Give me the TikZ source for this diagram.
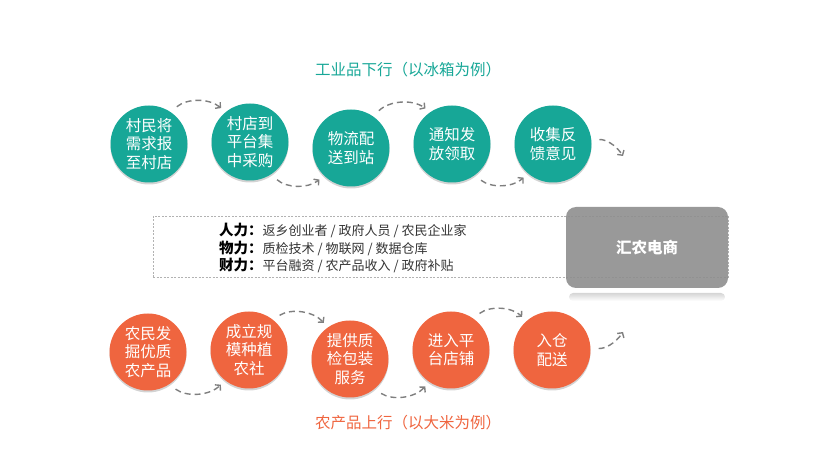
\documentclass[tikz,border=0pt]{standalone}
\usepackage{fontspec}
\setmainfont{Noto Sans CJK SC}
\usepackage{tikz}
\usetikzlibrary{arrows.meta,shadows,fadings}
\definecolor{upgreen}{HTML}{17A797}
\definecolor{downorange}{HTML}{EF653F}
\definecolor{hubgray}{HTML}{8E8E8E}
\definecolor{flowgray}{HTML}{7F7F7F}
\tikzstyle{upnode}=[circle,%
                    fill=upgreen,%
                    text=white,%
                    minimum size  = 77pt,%
                    inner sep     = 0pt,%
                    align=center,%
                    font=\fontsize{15.5}{18.5}\selectfont,%
                    drop shadow={shadow xshift=0pt,shadow yshift=-2pt,opacity=0.35},%
                    node distance = 101pt]
\tikzstyle{downnode}=[upnode,fill=downorange]
\tikzstyle{flow}=[draw=flowgray,line width=1.4pt,dash pattern=on 6pt off 4pt,%
                  -{Straight Barb[length=3.5pt,width=8pt]},shorten <=8pt,shorten >=6pt]
\tikzstyle{dashbox}=[draw=gray!60,line width=0.6pt,dash pattern=on 2pt off 1.5pt,%
                     minimum width=575pt,minimum height=61pt]
\tikzstyle{hubnode}=[rectangle,rounded corners=10pt,fill=hubgray,fill opacity=0.9,%
                     text opacity=1,text=white,minimum width=162pt,minimum height=81pt,%
                     font=\fontsize{15.5}{18}\selectfont\bfseries]
\newcommand{\lbl}[1]{{\fontsize{14.5}{17.5}\selectfont\bfseries\color{black}#1}}

\begin{document}
\begin{tikzpicture}[x=1pt,y=1pt]
            \useasboundingbox (0,0) rectangle (820,461);
            \node[text=upgreen,font=\fontsize{15.5}{18}\selectfont] (uptitle) at (408,391) {工业品下行（以冰箱为例）};
            \node[upnode] (a) at (149,317) {村民将\\需求报\\至村店};
            \node[upnode][right of=a,yshift=2pt]  (b) {村店到\\平台集\\中采购};
            \node[upnode][right of=b,yshift=-6pt] (c) {物流配\\送到站};
            \node[upnode][right of=c,yshift=4pt]  (d) {通知发\\放领取};
            \node[upnode][right of=d] (e) {收集反\\馈意见};
            \coordinate (eout) at (623,305);
            \draw [flow] (a.56) to[bend left=40] (b.129);
            \draw [flow] (b.-57) to[bend right=40] (c.-134);
            \draw [flow] (c.55) to[bend left=40] (d.124);
            \draw [flow] (d.-54) to[bend right=40] (e.-130);
            \draw [flow,shorten >=0pt] (e.6) to[bend left=30] (eout);

            \node[dashbox] (res) at (440.5,214.5) {};
            \node[anchor=west,align=left,inner sep=0pt,text=black!80,%
                  font=\fontsize{13}{17.5}\selectfont] (ziyuan) at (219,213)
                 {\lbl{人力：}返乡创业者 / 政府人员 / 农民企业家\\
                  \lbl{物力：}质检技术 / 物联网 / 数据仓库\\
                  \lbl{财力：}平台融资 / 农产品收入 / 政府补贴};
            \fill[black!16,path fading=south,rounded corners=4pt] (569,160) rectangle (725,168);
            \node[hubnode] (hub) at (647,213.5) {汇农电商};

            \node[downnode] (f) at (148,109) {农民发\\掘优质\\农产品};
            \node[downnode][right of=f,yshift=2pt]  (g) {成立规\\模种植\\农社};
            \node[downnode][right of=g,yshift=-9pt] (h) {提供质\\检包装\\服务};
            \node[downnode][right of=h,yshift=9pt]  (i) {进入平\\台店铺};
            \node[downnode][right of=i] (j) {入仓\\配送};
            \coordinate (jout) at (623,129);
            \draw [flow] (f.-57) to[bend right=40] (g.-128);
            \draw [flow] (g.52) to[bend left=40] (h.125);
            \draw [flow] (h.-51) to[bend right=40] (i.-124);
            \draw [flow] (i.55) to[bend left=40] (j.131);
            \draw [flow,shorten >=0pt] (j.3) to[bend right=30] (jout);
            \node[text=downorange,font=\fontsize{15.5}{18}\selectfont] (downtitle) at (408,38) {农产品上行（以大米为例）};
\end{tikzpicture}
\end{document}
